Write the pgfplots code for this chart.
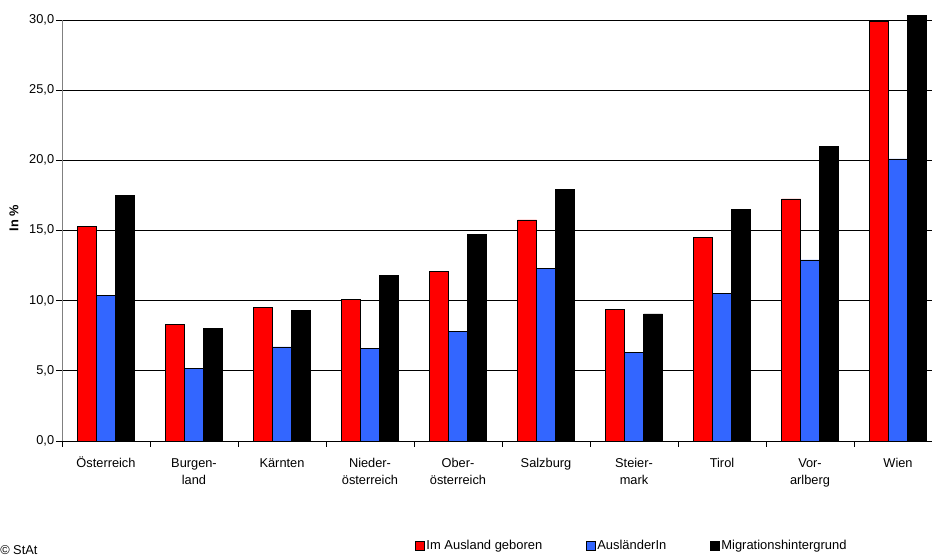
\documentclass[border=0pt]{standalone}
\usepackage{pgfplots}
\pgfplotsset{compat=1.18}
\usepackage{fontspec}
\setmainfont{Liberation Sans}
\definecolor{barred}{HTML}{FF0000}
\definecolor{barblue}{HTML}{3366FF}
\definecolor{axisgrey}{HTML}{808080}
\begin{document}
\fontsize{9.6}{12.75}\selectfont
\begin{tikzpicture}
\begin{scope}
\clip (0,0) rectangle (699pt,417pt);
\begin{axis}[
  at={(46.5pt,86.25pt)}, anchor=south west,
  scale only axis, width=660pt, height=315.75pt,
  ybar=0pt, bar width=14.25pt,
  xmin=-0.5, xmax=9.5, ymin=0, ymax=30,
  clip=false,
  axis x line*=bottom, axis y line*=left,
  x axis line style={black, line width=0.6pt, -},
  y axis line style={axisgrey, line width=0.6pt, -},
  xtick={0,...,9},
  xticklabels={Österreich,{Burgen-\\land},Kärnten,{Nieder-\\österreich},{Ober-\\österreich},Salzburg,{Steier-\\mark},Tirol,{Vor-\\arlberg},Wien},
  typeset ticklabels with strut,
  xticklabel style={align=center, yshift=-3pt, font=\fontsize{9.6}{12.75}\selectfont},
  major x tick style={draw=none},
  minor xtick={-0.5,0.5,...,9.5},
  minor x tick style={black, line width=0.6pt},
  minor tick length=4.5pt,
  ytick={0,5,...,30},
  major tick length=4.5pt,
  tick align=outside,
  y tick style={black, line width=0.6pt},
  ymajorgrids, grid style={black, line width=0.6pt},
  /pgf/number format/fixed,
  /pgf/number format/fixed zerofill,
  /pgf/number format/precision=1,
  /pgf/number format/use comma,
  /pgf/number format/assume math mode=true,
  yticklabel style={xshift=2pt, font=\fontsize{9.6}{12.75}\selectfont},
  ylabel={\textbf{In \%}},
  ylabel style={at={(axis description cs:-0.0545,0.53)}, anchor=center, font=\fontsize{9.6}{12.75}\selectfont},
  legend style={at={(0.396,-0.249)}, anchor=west, draw=none, legend columns=3,
    font=\fontsize{9.7}{12.75}\selectfont,
    /tikz/every even column/.append style={column sep=31.5pt},
    nodes={inner sep=1pt}},
  legend image code/.code={\draw[#1,draw=black,line width=0.6pt] (0pt,-3.6pt) rectangle (7.2pt,3.6pt);},
]
\addplot[fill=barred, draw=black, line width=0.5pt] coordinates {
(0,15.3) (1,8.3) (2,9.5) (3,10.1) (4,12.1) (5,15.75) (6,9.35) (7,14.5) (8,17.25) (9,29.9)};
\addplot[fill=barblue, draw=black, line width=0.5pt] coordinates {
(0,10.4) (1,5.2) (2,6.7) (3,6.6) (4,7.8) (5,12.3) (6,6.3) (7,10.5) (8,12.9) (9,20.1)};
\addplot[fill=black, draw=black, line width=0.5pt] coordinates {
(0,17.5) (1,8.0) (2,9.3) (3,11.8) (4,14.7) (5,17.9) (6,9.05) (7,16.5) (8,21.0) (9,30.3)};
\legend{Im Ausland geboren, AusländerIn, Migrationshintergrund}
\end{axis}
\node[anchor=south west, inner sep=0pt, font=\fontsize{9.6}{12.75}\selectfont] at (0pt,1pt) {© StAt};
\end{scope}
\pgfresetboundingbox
\useasboundingbox (0,0) rectangle (699pt,417pt);
\end{tikzpicture}
\end{document}
